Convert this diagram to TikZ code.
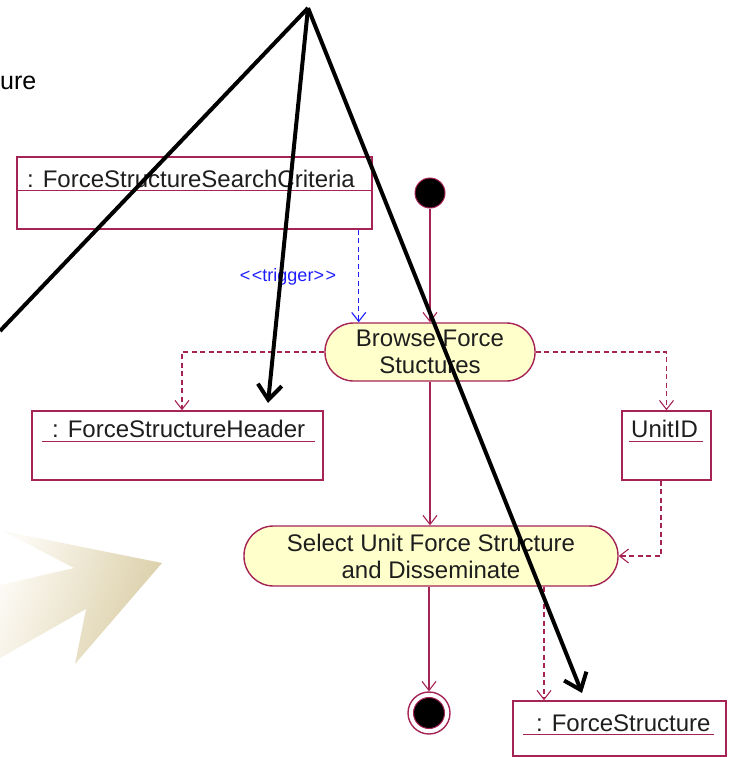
\documentclass[tikz,border=0pt]{standalone}
\usepackage{fontspec}
\setmainfont{Liberation Sans}
\usetikzlibrary{arrows.meta,calc}
\definecolor{umlred}{RGB}{165,35,85}
\definecolor{actfill}{RGB}{255,255,204}
\definecolor{trigblue}{RGB}{30,30,255}
\definecolor{txtgray}{RGB}{30,30,30}
\definecolor{beigedark}{RGB}{218,205,165}
\definecolor{beigelight}{RGB}{252,250,244}
\begin{document}
\begin{tikzpicture}[x=1pt,y=-1pt,
  objbox/.style={draw=umlred,line width=1.4pt,inner sep=0pt},
  objlabel/.style={anchor=base west,inner sep=0pt,text=txtgray,font=\fontsize{24}{27}\selectfont},
  underl/.style={draw=umlred,line width=1.4pt},
  activity/.style={draw=umlred,fill=actfill,line width=1.4pt,inner sep=0pt,align=center,
    text=txtgray,font=\fontsize{24}{27}\selectfont},
  flow/.style={draw=umlred,line width=1.4pt,-{Straight Barb[length=9pt,width=14pt,line width=1.1pt]}},
  dep/.style={flow,dash pattern=on 5pt off 3.5pt},
  trig/.style={draw=trigblue,line width=1.4pt,dash pattern=on 5pt off 3.5pt,
    -{Straight Barb[length=9pt,width=14pt,line width=1.1pt]}},
  annot/.style={draw=black,line width=4pt,line join=miter},
  annotarrow/.style={annot,-{Straight Barb[length=15pt,width=24pt,line width=4pt]}}]
\useasboundingbox (0,0) rectangle (730,757);

% decorative beige arrow
\shade[left color=beigelight,right color=beigedark,shading angle=70]
  (0,585) -- (74,568) -- (3,531) -- (162,563) -- (75,664) -- (86,609) -- (0,658) -- cycle;

% partly hidden title text
\node[anchor=base west,inner sep=0pt,font=\fontsize{25}{28}\selectfont] (title) at (0,90) {ure};

% object boxes
\node[objbox,minimum width=355pt,minimum height=72pt] (crit) at (194.5,193) {};
\node[objlabel] (critlbl) at (27,187) {: ForceStructureSearchCriteria};
\draw[underl] ([yshift=-34pt]crit.north west) -- ([yshift=-34pt]crit.north east);

\node[objbox,minimum width=291pt,minimum height=69pt] (fsh) at (177.5,445.5) {};
\node[objlabel] (fshlbl) at (52,437) {: ForceStructureHeader};
\draw[underl] ([xshift=11pt,yshift=-31pt]fsh.north west) -- ([xshift=-9pt,yshift=-31pt]fsh.north east);

\node[objbox,minimum width=89pt,minimum height=69pt] (unit) at (666.5,445.5) {};
\node[objlabel] (unitlbl) at (631,437) {UnitID};
\draw[underl] ([xshift=8pt,yshift=-31pt]unit.north west) -- ([xshift=-9pt,yshift=-31pt]unit.north east);

\node[objbox,minimum width=213pt,minimum height=55pt] (fs) at (619.5,728.5) {};
\node[objlabel] (fslbl) at (536,731) {: ForceStructure};
\draw[underl] ([xshift=11pt,yshift=-34pt]fs.north west) -- ([xshift=-13pt,yshift=-34pt]fs.north east);

% activities
\node[activity,minimum width=210pt,minimum height=58pt,rounded corners=28.5pt] (browse) at (430,352)
  {Browse Force\\Stuctures};
\node[activity,minimum width=374pt,minimum height=60pt,rounded corners=29.5pt] (select) at (431,556)
  {Select Unit Force Structure\\and Disseminate};

% initial and final states
\node[circle,fill=black,draw=umlred,line width=1pt,minimum size=30pt,inner sep=0pt] (start) at (430,193) {};
\node[circle,draw=umlred,line width=1.4pt,minimum size=42pt,inner sep=0pt] (endo) at (429,713) {};
\node[circle,fill=black,draw=umlred,line width=1pt,minimum size=31pt,inner sep=0pt] (endi) at (429,713) {};

% control flow
\draw[flow] (start) -- (start |- browse.north);
\draw[flow] (browse.south) -- (browse.south |- select.north);
\draw[flow] (endo |- select.south) -- (endo.north);

% trigger
\draw[trig] ([xshift=-14pt]crit.south east) -- ([xshift=-14pt]crit.south east |- browse.north);
\node[text=trigblue,font=\fontsize{18}{20}\selectfont,inner sep=0pt] (triglbl) at (288,277)
  {{<}\kern1.5pt{<}trigger{>}\kern1.5pt{>}};

% object flows
\draw[dep] (browse.west) -| ([xshift=4.5pt]fsh.north);
\draw[dep] (browse.east) -| (unit.north);
\draw[dep] ([xshift=-5.5pt]unit.south) |- (select.east);
\draw[dep] ([xshift=113pt]select.south) -- ([xshift=113pt]select.south |- fs.north);

% hand-drawn pointers
\coordinate (apex) at (308,8);
\coordinate (leftend) at (0,331);
\coordinate (hdrtip) at (268,403);
\coordinate (fstip) at (582,693);
\draw[annot] (leftend) -- (apex);
\draw[annotarrow] (apex) -- (hdrtip);
\draw[annotarrow] (apex) -- (fstip);
\end{tikzpicture}
\end{document}
